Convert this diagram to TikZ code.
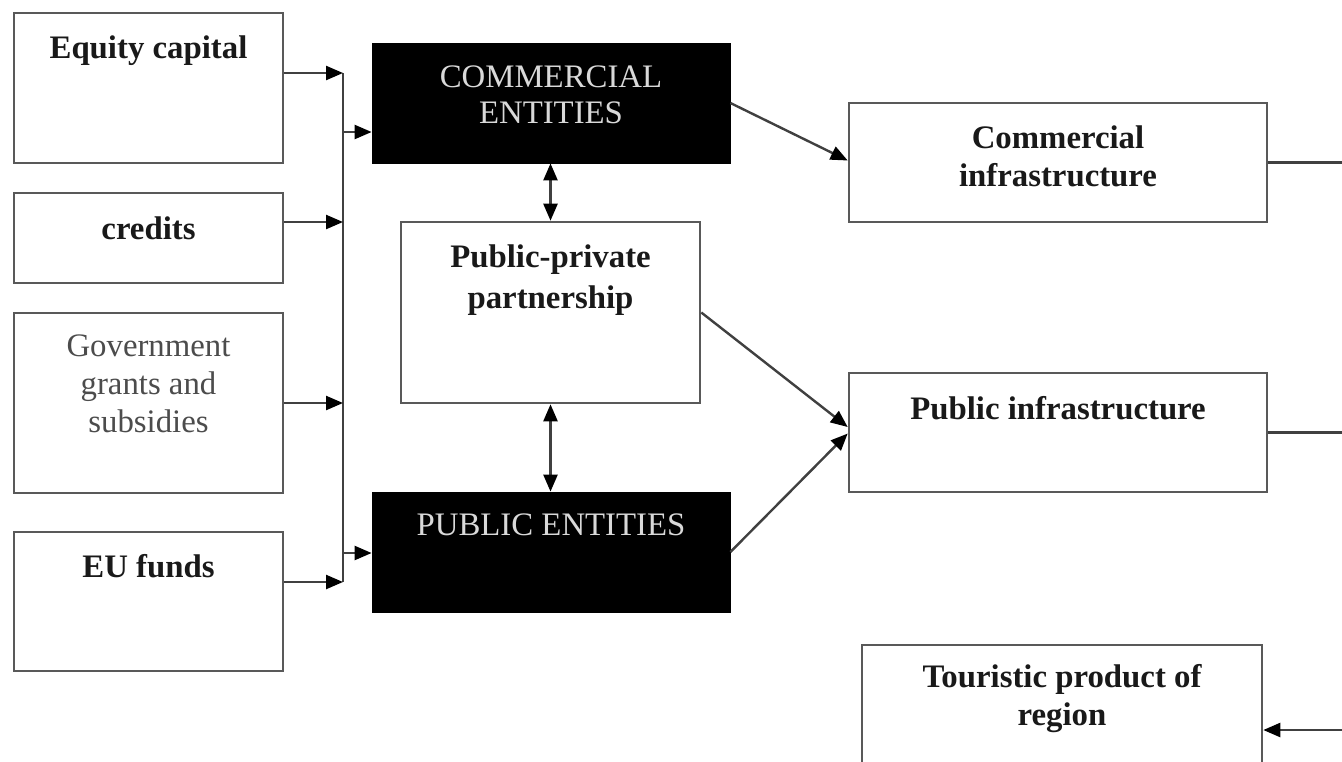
\documentclass[tikz,border=0pt]{standalone}
\usepackage{fontspec}
\setmainfont{Liberation Serif}
\usetikzlibrary{arrows.meta}
\begin{document}
\begin{tikzpicture}[x=0.5pt,y=-0.5pt,
  frame/.style={draw=black!65, line width=1.3pt, fill=white, inner sep=0pt},
  dark/.style={draw=black, fill=black, inner sep=0pt},
  lbl/.style={inner sep=0pt, anchor=north, align=center, font=\fontsize{16.4pt}{19pt}\selectfont\bfseries, text=black!90},
  plain/.style={lbl, font=\fontsize{16.4pt}{19pt}\selectfont, text=black!70},
  wlbl/.style={lbl, font=\fontsize{16.4pt}{18pt}\selectfont, text=white!85!black},
  ln/.style={draw=black!75, line width=1.2pt},
  arr/.style={ln, -{Triangle[length=8.5pt,width=7pt,color=black]}},
  darr/.style={ln, {Triangle[length=8.5pt,width=7pt,color=black]}-{Triangle[length=8.5pt,width=7pt,color=black]}}
]
\useasboundingbox (0,0) rectangle (1342,761);
\clip (0,0) rectangle (1342,761);
\fill[white] (0,0) rectangle (1342,761);

% left column
\node[frame, minimum width=134.5pt, minimum height=75pt] (eq) at (148.5,88) {};
\node[frame, minimum width=134.5pt, minimum height=45pt] (cr) at (148.5,238) {};
\node[frame, minimum width=134.5pt, minimum height=90pt] (gov) at (148.5,403) {};
\node[frame, minimum width=134.5pt, minimum height=69.5pt] (eu) at (148.5,601.5) {};
\node[lbl] (teq) at (148.5,35) {Equity capital};
\node[lbl] (tcr) at (148.5,216) {credits};
\node[plain] (tgov) at (148.5,334) {Government\\grants and\\subsidies};
\node[lbl] (teu) at (148.5,554) {EU funds};

% middle column
\node[dark, minimum width=179pt, minimum height=60pt] (ce) at (551,103) {};
\node[dark, minimum width=179pt, minimum height=60pt] (pe) at (551,552) {};
\node[frame, minimum width=149.5pt, minimum height=90.5pt] (ppp) at (550.5,312.5) {};
\node[wlbl] (tce) at (551,65) {COMMERCIAL\\ENTITIES};
\node[wlbl] (tpe) at (551,513) {PUBLIC ENTITIES};
\node[lbl, font=\fontsize{16.4pt}{20.5pt}\selectfont\bfseries] (tppp) at (550.5,244) {Public-private\\partnership};

% right column
\node[frame, minimum width=209pt, minimum height=59.5pt] (ci) at (1058,162.5) {};
\node[frame, minimum width=209pt, minimum height=59.5pt] (pi) at (1058,432.5) {};
\node[frame, minimum width=200pt, minimum height=70pt] (tp) at (1062,715) {};
\node[lbl] (tci) at (1058,125) {Commercial\\infrastructure};
\node[lbl] (tpi) at (1058,396) {Public infrastructure};
\node[lbl] (ttp) at (1062,664) {Touristic product of\\region};

% bus
\coordinate (b1) at (343,73);
\coordinate (b2) at (343,222);
\coordinate (b3) at (343,403);
\coordinate (b4) at (343,582);
\coordinate (bc) at (343,132);
\coordinate (bp) at (343,553);
\draw[ln] (b1) -- (b4);
\draw[arr] (eq.east |- b1) -- (b1);
\draw[arr] (cr.east |- b2) -- (b2);
\draw[arr] (gov.east |- b3) -- (b3);
\draw[arr] (eu.east |- b4) -- (b4);
\draw[arr] (bc) -- (ce.west |- bc);
\draw[arr] (bp) -- (pe.west |- bp);

% middle links
\draw[darr] (ppp.north |- ce.south) -- (ppp.north);
\draw[darr] (ppp.south) -- (ppp.south |- pe.north);
\draw[arr] (ce.east) -- ([yshift=1pt]ci.west);
\draw[arr] (ppp.east) -- ([yshift=2.75pt]pi.west);
\draw[arr] (pe.east) -- ([yshift=-0.5pt]pi.west);

% right edge
\coordinate (r1) at (1342,162.5);
\coordinate (r2) at (1342,432.5);
\coordinate (r3) at (1342,730);
\draw[ln] (ci.east) -- (r1);
\draw[ln] (pi.east) -- (r2);
\draw[arr] (r3) -- (tp.east |- r3);
\end{tikzpicture}
\end{document}
